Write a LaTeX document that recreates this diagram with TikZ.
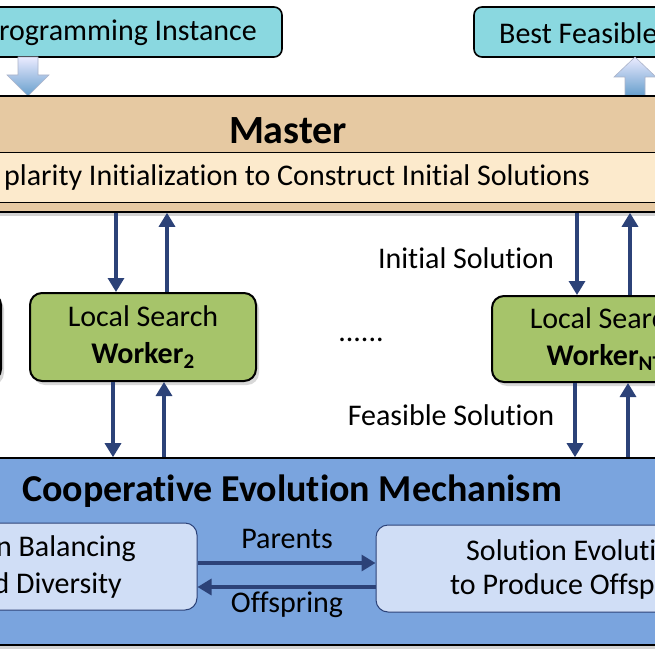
\documentclass[tikz,border=0pt]{standalone}
\usepackage{fontspec}
\setmainfont{Carlito}[Ligatures=NoCommon]
\usetikzlibrary{arrows.meta}
\usetikzlibrary{shadows}

\definecolor{iocyan}{RGB}{138,216,224}
\definecolor{mastertan}{RGB}{230,201,162}
\definecolor{initcream}{RGB}{252,234,204}
\definecolor{workgreen}{RGB}{166,196,106}
\definecolor{coopblue}{RGB}{122,164,222}
\definecolor{innerblue}{RGB}{208,222,246}
\definecolor{navy}{RGB}{44,66,120}

\tikzset{
	txt/.style = {font=\fontsize{30}{37}\selectfont, inner sep=0pt},
	iobox/.style = {draw=black, line width=1.6pt, rounded corners=8pt, fill=iocyan,
		minimum height=50pt},
	band/.style = {draw=black, line width=1.6pt, minimum width=720pt,
		drop shadow={opacity=0.35, shadow xshift=0pt, shadow yshift=-4pt}},
	workbox/.style = {draw=black, line width=2pt, rounded corners=12pt, fill=workgreen,
		minimum width=226pt, minimum height=88pt, align=center, txt,
		drop shadow={opacity=0.3, shadow xshift=3pt, shadow yshift=-4pt}},
	innerbox/.style = {draw=navy, line width=1pt, rounded corners=12pt, fill=innerblue,
		minimum height=87pt},
	flow/.style = {navy, line width=3.2pt, -{Triangle[width=16pt, length=14pt]}},
	blockarrow/.style = {draw=navy!40, line width=0.6pt, top color=blue!8, bottom color=blue!45!cyan!50!gray!80}
}

\begin{document}
\begin{tikzpicture}[x = 1pt, y = -1pt]
	\useasboundingbox (0, 0) rectangle (655, 655);
	\clip (0, 0) rectangle (655, 655);
	\fill[white] (0, 0) rectangle (655, 655);

	% input / output
	\node[iobox, minimum width=312pt] (prog) at (126, 32) {};
	\node[txt, anchor=east] (progtxt) at (257, 33) {rogramming Instance};
	\node[iobox, minimum width=300pt] (best) at (624, 32) {};
	\node[txt, anchor=west] (besttxt) at (499, 33) {Best Feasible};

	\shade[blockarrow] (18, 57)--(38, 57)--(38, 75)--(49, 75)--(28, 96)--(7, 75)--(18, 75)--cycle;
	\shade[blockarrow] (625, 96)--(645, 96)--(645, 77)--(656, 77)--(635, 57)--(614, 77)--(625, 77)--cycle;

	% master
	\node[band, fill=mastertan, minimum height=116pt] (master) at (327, 154) {};
	\node[font=\fontsize{40}{40}\selectfont\bfseries, inner sep=0pt] (mtitle) at (288, 131) {Master};
	\node[draw=black, line width=1pt, fill=initcream, minimum width=710pt, minimum height=49pt] (init) at (327, 177.5) {};
	\node[txt, anchor=east] (inittxt) at (590, 178) {plarity Initialization to Construct Initial Solutions};

	% workers
	\node[workbox] (w1) at (-112, 337) {};
	\node[workbox] (w2) at (143, 337) {Local Search\\\textbf{Worker\textsubscript{2}}};
	\node[workbox, minimum height=86pt] (wn) at (605, 339) {Local Search\\\textbf{Worker\textsubscript{NT}}};
	\node[txt] (dots) at (361, 340) {......};
	\node[txt] (lblinit) at (466, 258) {Initial Solution};
	\node[txt] (lblfeas) at (451, 415) {Feasible Solution};

	% cooperative evolution
	\node[band, fill=coopblue, minimum height=187pt] (coop) at (327, 551.5) {};
	\node[font=\fontsize{38}{38}\selectfont\bfseries, inner sep=0pt] (ctitle) at (292, 491) {Cooperative Evolution Mechanism};
	\node[innerbox, minimum width=260pt] (sel) at (67, 566.5) {};
	\node[txt, anchor=east] (seltxta) at (136, 549) {n Balancing};
	\node[txt, anchor=east] (seltxtb) at (122, 585) {d Diversity};
	\node[innerbox, minimum width=320pt] (evo) at (536, 568.5) {};
	\node[txt, anchor=west] (evotxta) at (466, 550) {Solution Evolution};
	\node[txt, anchor=west] (evotxtb) at (450, 587) {to Produce Offspring};

	% master <-> workers
	\coordinate (w2in) at ([xshift=-27pt]w2.north);
	\coordinate (w2out) at ([xshift=24pt]w2.north);
	\coordinate (wnin) at ([xshift=-28pt]wn.north);
	\coordinate (wnout) at ([xshift=25pt]wn.north);
	\draw[flow] (w2in |- master.south)--(w2in);
	\draw[flow] (w2out)--(w2out |- master.south);
	\draw[flow] (wnin |- master.south)--(wnin);
	\draw[flow] (wnout)--(wnout |- master.south);

	% workers <-> cooperative evolution
	\coordinate (w2sol) at ([xshift=-30pt]w2.south);
	\coordinate (w2back) at ([xshift=21pt]w2.south);
	\coordinate (wnsol) at ([xshift=-30pt]wn.south);
	\coordinate (wnback) at ([xshift=23pt]wn.south);
	\draw[flow] (w2sol)--(w2sol |- coop.north);
	\draw[flow] (w2back |- coop.north)--(w2back);
	\draw[flow] (wnsol)--(wnsol |- coop.north);
	\draw[flow] (wnback |- coop.north)--(wnback);

	% parents / offspring
	\draw[flow] (sel.east |- 0, 563)--(evo.west |- 0, 563);
	\draw[flow] (evo.west |- 0, 587)--(sel.east |- 0, 587);
	\node[txt] (lblpar) at (287, 539) {Parents};
	\node[txt] (lbloff) at (287, 605) {Offspring};
\end{tikzpicture}
\end{document}
